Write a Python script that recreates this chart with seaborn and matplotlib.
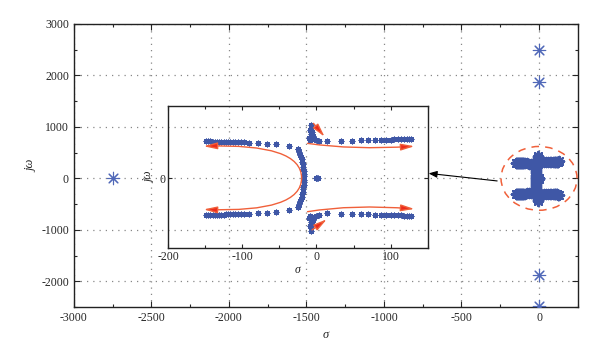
import numpy as np
import pandas as pd
import matplotlib.pyplot as plt
import seaborn as sns
from matplotlib.patches import Ellipse, FancyArrowPatch
from matplotlib.path import Path
from matplotlib.ticker import MultipleLocator

# far poles (main axes, sigma / j omega)
far_sigma = [-2750, 0, 0, 0, 0]
far_omega = [0, 2500, 1870, -1870, -2480]

# root locus near the origin (zoomed inset, same units)
ul_sigma = [-149, -146, -143, -140, -137, -134, -131, -128, -125, -122, -119, -116,
            -113, -110, -106, -102, -98, -91, -79, -67, -54, -37, -25]
ul_omega = [305, 305, 305, 304, 304, 304, 303, 303, 303, 302, 302, 301,
            301, 300, 299, 298, 297, 295, 292, 287, 281, 267, 238]
ll_sigma = [-149, -146, -143, -140, -137, -134, -131, -128, -125, -122, -119, -116,
            -113, -110, -106, -102, -98, -91, -79, -67, -54, -37, -25]
ll_omega = [-308, -308, -307, -307, -307, -306, -306, -305, -305, -304, -304, -303,
            -303, -302, -301, -300, -299, -297, -294, -289, -282, -268, -240]
arc_sigma = [-25, -23, -22, -21, -20, -19, -18.5, -18, -17.5, -17, -17, -16.5,
             -16.5, -17, -17, -17.5, -18, -18.5, -19, -20, -21, -22, -23, -25]
arc_omega = [238, 215, 195, 175, 155, 135, 115, 95, 75, 55, 35, 15,
             -15, -35, -55, -75, -95, -115, -135, -155, -175, -195, -215, -238]
ctr_sigma = [0, 2, -1, 1]
ctr_omega = [0, 0, 3, -3]
uc_sigma = [-8, -7, -9, -6, -8, -5, -7, -3, 0, 4, -10, -9]
uc_omega = [440, 420, 400, 385, 365, 350, 335, 325, 318, 312, 330, 315]
lc_sigma = [-8, -7, -9, -6, -8, -5, -7, -3, 0, 4, -10, -9]
lc_omega = [-440, -420, -400, -385, -365, -350, -335, -325, -318, -312, -330, -315]
ur_sigma = [14, 33, 48, 60, 70, 79, 87, 94, 100, 105, 110, 114, 118, 122, 125, 128]
ur_omega = [308, 310, 312, 313, 315, 317, 318, 320, 321, 322, 323, 324, 325, 326, 327, 328]
lr_sigma = [14, 33, 48, 60, 70, 79, 87, 94, 100, 105, 110, 114, 118, 122, 125, 128]
lr_omega = [-296, -298, -300, -302, -303, -305, -306, -308, -309, -310, -311, -312,
            -313, -314, -315, -316]

# direction arrows in the inset: start, bezier control, end
dir_start = [(-20, 0), (-20, 0), (-12, 289), (-12, -281), (-4, 456), (-6, -433)]
dir_ctrl = [(-20, 290), (-20, -290), (49, 233), (49, -218), None, None]
dir_end = [(-152, 265), (-152, -262), (132, 265), (132, -258), (11, 344), (14, -344)]

BLUE = "#3f57a6"
RED = "#ec2a1c"
ORANGE = "#f0603a"

sns.set_style("ticks")
plt.rcParams.update({
    "font.family": ["Liberation Serif", "DejaVu Serif"],
    "font.size": 8.5,
    "axes.unicode_minus": False,
    "xtick.direction": "in",
    "ytick.direction": "in",
    "xtick.top": True,
    "ytick.right": True,
    "axes.edgecolor": "#222222",
    "axes.linewidth": 1.0,
})

far = pd.DataFrame({"sigma": far_sigma, "omega": far_omega})
locus = pd.DataFrame({
    "sigma": ul_sigma + ll_sigma + arc_sigma + ctr_sigma + uc_sigma + lc_sigma + ur_sigma + lr_sigma,
    "omega": ul_omega + ll_omega + arc_omega + ctr_omega + uc_omega + lc_omega + ur_omega + lr_omega,
})

fig = plt.figure(figsize=(6, 3.56), dpi=100)
ax = fig.add_axes([0.123, 0.1376, 0.84, 0.795])

sns.scatterplot(data=far, x="sigma", y="omega", marker=(8, 2, 0), s=80,
                color="#5068b8", linewidth=0.8, ax=ax, zorder=3)
sns.scatterplot(data=locus, x="sigma", y="omega", marker=(8, 2, 0), s=45,
                color=BLUE, linewidth=1.6, ax=ax, zorder=3)

ax.add_patch(Ellipse((0, 0), width=490, height=1240, fill=False, edgecolor=ORANGE,
                     linestyle=(0, (5, 4)), linewidth=1.1, zorder=4))
ax.annotate("", xy=(-712, 97), xytext=(-270, -50),
            arrowprops=dict(arrowstyle="-|>,head_length=0.5,head_width=0.2",
                            color="black", lw=0.8, mutation_scale=10,
                            shrinkA=0, shrinkB=0), zorder=5)

ax.set_xlim(-3000, 250)
ax.set_ylim(-2500, 3000)
ax.xaxis.set_major_locator(MultipleLocator(500))
ax.xaxis.set_minor_locator(MultipleLocator(250))
ax.yaxis.set_major_locator(MultipleLocator(1000))
ax.yaxis.set_minor_locator(MultipleLocator(500))
ax.tick_params(which="major", length=4, width=0.8, labelsize=8.5)
ax.tick_params(which="minor", length=2.5, width=0.8)
ax.grid(True, which="major", color="#888888", linestyle=(0, (1, 4)), linewidth=0.9)
ax.set_xlabel("σ", fontstyle="italic", fontsize=9, labelpad=4)
ax.set_ylabel("jω", fontstyle="italic", fontsize=9, labelpad=3)

# inset with the zoomed locus
axin = fig.add_axes([0.28, 0.303, 0.433, 0.399])
axin.patch.set_alpha(0)
sns.scatterplot(data=locus, x="sigma", y="omega", marker=(8, 2, 0), s=11,
                color=BLUE, linewidth=1.0, ax=axin, zorder=3)
for st, ct, en in zip(dir_start, dir_ctrl, dir_end):
    if ct is None:
        path = Path([st, en], [Path.MOVETO, Path.LINETO])
    else:
        path = Path([st, ct, en], [Path.MOVETO, Path.CURVE3, Path.CURVE3])
    axin.add_patch(FancyArrowPatch(path=path,
                                   arrowstyle="-|>,head_length=0.8,head_width=0.2",
                                   mutation_scale=10, edgecolor=ORANGE, facecolor=RED,
                                   lw=1.0, zorder=4, shrinkA=0, shrinkB=0))
axin.set_xlim(-200, 150)
axin.set_ylim(-585, 600)
axin.xaxis.set_major_locator(MultipleLocator(100))
axin.xaxis.set_minor_locator(MultipleLocator(50))
axin.set_yticks([0])
axin.tick_params(which="major", length=3, width=0.8, labelsize=8.5, pad=2)
axin.tick_params(which="minor", length=2, width=0.8)
axin.set_xlabel("σ", fontstyle="italic", fontsize=8.5, labelpad=1)
axin.set_ylabel("jω", fontstyle="italic", fontsize=8.5, labelpad=3)

fig.savefig("out.png", dpi=100)
